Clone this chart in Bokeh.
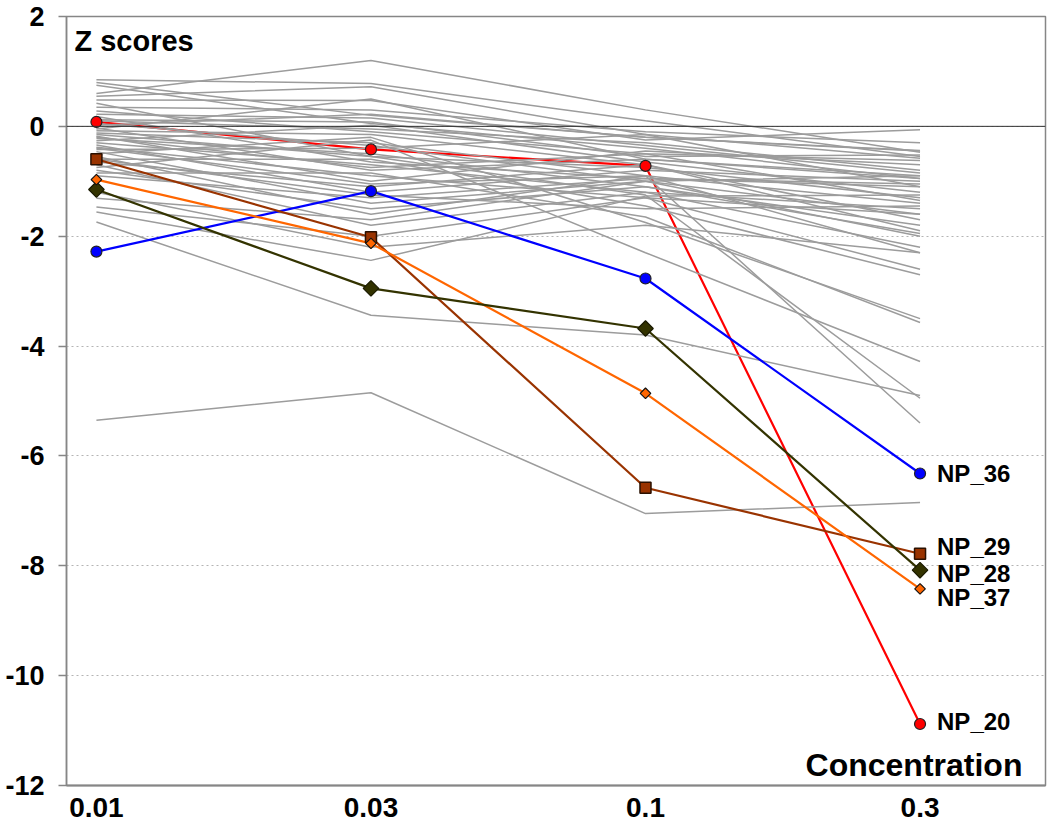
import math
from bokeh.plotting import figure
from bokeh.models import Range1d, Span, Label, FixedTicker
from bokeh.embed import file_html
from bokeh.resources import INLINE

# ---------------- data ----------------
concentrations = ["0.01", "0.03", "0.1", "0.3"]
xpos = [0, 1, 2, 3]
y_ticks = [-12, -10, -8, -6, -4, -2, 0, 2]

# background (grey) compounds: Z score at each concentration
grey_at_001 = [0.85, 0.80, 0.75, 0.60, 0.55, 0.48, 0.42, 0.35, 0.28, 0.22, 0.18, 0.12,
               0.05, 0.02, -0.03, -0.08, -0.12, -0.18, -0.22, -0.26, -0.30, -0.34, -0.38,
               -0.42, -0.46, -0.50, -0.55, -0.60, -0.65, -0.70, -0.75, -0.80, -0.85, -0.90,
               -0.15, -0.40, -1.31, -1.47, -1.56, -1.74, -1.20, -5.35, 0.10, -0.20, -0.05,
               -0.60]
grey_at_003 = [0.78, 0.20, 0.05, 1.20, 0.72, 0.47, -0.55, 0.30, -0.10, 0.15, -0.65, 0.08,
               -0.35, 0.22, -0.80, -0.15, -0.30, -1.00, -0.50, 0.02, -0.70, -1.20, -0.90,
               -0.40, -1.40, -0.20, -1.60, -0.60, -1.10, -1.80, -0.25, -1.50, -0.85, -1.30,
               -0.55, -1.05, -1.70, -2.00, -2.44, -3.44, -2.20, -4.85, -0.05, -0.75, 0.50,
               -1.25]
grey_at_01 = [0.10, -0.20, -0.40, 0.30, -0.15, -0.25, -0.75, -0.10, -0.50, -0.35, -0.95,
              -0.55, -1.00, -0.20, -0.60, -0.70, -0.90, -0.45, -1.10, -0.65, -1.20, -0.80,
              -1.30, -0.15, -1.00, -1.75, -0.90, -1.45, -0.70, -1.20, -2.30, -1.10, -1.65,
              -0.95, -1.25, -0.90, -1.00, -1.30, -1.27, -3.80, -1.80, -7.05, -0.30, -0.50,
              -0.60, -1.50]
grey_at_03 = [-0.55, -0.45, -0.95, -0.47, -1.10, -0.06, -1.30, -0.30, -0.62, -0.85, -1.05,
              -0.52, -1.60, -0.44, -0.90, -1.90, -2.30, -0.70, -1.80, -1.20, -1.50, -1.00,
              -2.60, -0.58, -2.00, -3.50, -1.40, -2.70, -1.70, -2.20, -4.28, -1.95, -3.57,
              -1.10, -4.95, -5.40, -0.90, -1.60, -1.25, -4.90, -2.30, -6.85, -0.80, -1.35,
              -0.95, -1.45]

# highlighted compounds
np20 = [0.08, -0.42, -0.72, -10.88]
np36 = [-2.28, -1.18, -2.77, -6.32]
np29 = [-0.60, -2.02, -6.58, -7.78]
np28 = [-1.15, -2.95, -3.68, -8.08]
np37 = [-0.97, -2.13, -4.86, -8.42]

# ---------------- figure ----------------
FONT = "Liberation Sans"

p = figure(frame_width=979, frame_height=769,
           x_range=Range1d(-0.109, 3.457), y_range=Range1d(-12, 2),
           output_backend="svg", toolbar_location=None,
           min_border_left=66, min_border_top=16, min_border_right=4, min_border_bottom=44,
           background_fill_color="white", border_fill_color="white")

p.outline_line_color = "#868686"
p.outline_line_width = 1.5

# axes
p.yaxis.ticker = FixedTicker(ticks=y_ticks)
p.yaxis.major_label_overrides = {t: str(t) for t in y_ticks}
p.yaxis.axis_line_color = "#868686"
p.yaxis.axis_line_width = 1.5
p.yaxis.major_tick_line_color = "#868686"
p.yaxis.major_tick_line_width = 1.5
p.yaxis.major_tick_out = 8
p.yaxis.major_tick_in = 0
p.yaxis.minor_tick_line_color = None
p.yaxis.major_label_text_font = FONT
p.yaxis.major_label_text_font_style = "bold"
p.yaxis.major_label_text_font_size = "27px"
p.yaxis.major_label_text_color = "black"
p.yaxis.major_label_standoff = 14

p.xaxis.ticker = FixedTicker(ticks=xpos)
p.xaxis.major_label_overrides = {x: c for x, c in zip(xpos, concentrations)}
p.xaxis.axis_line_color = "#868686"
p.xaxis.axis_line_width = 2
p.xaxis.major_tick_line_color = None
p.xaxis.minor_tick_line_color = None
p.xaxis.major_label_text_font = FONT
p.xaxis.major_label_text_font_style = "bold"
p.xaxis.major_label_text_font_size = "28px"
p.xaxis.major_label_text_color = "black"
p.xaxis.major_label_standoff = 6

p.xgrid.grid_line_color = None
p.ygrid.grid_line_color = "#b4b4b4"
p.ygrid.grid_line_dash = "2 3"
p.ygrid.grid_line_width = 1

p.add_layout(Span(location=0, dimension="width", line_color="#303030", line_width=1))

# red line underneath the grey ones
p.line(xpos, np20, line_color="#ff0000", line_width=2.2)

# grey background lines
xs = [xpos for _ in grey_at_001]
ys = [list(v) for v in zip(grey_at_001, grey_at_003, grey_at_01, grey_at_03)]
p.multi_line(xs=xs, ys=ys, line_color="#9c9c9c", line_width=1.5)

# highlighted lines
p.line(xpos, np36, line_color="#0000ff", line_width=2.2)
p.line(xpos, np29, line_color="#993300", line_width=2.2)
p.line(xpos, np37, line_color="#ff6600", line_width=2.2)
p.line(xpos, np28, line_color="#333300", line_width=2.2)

# markers
p.scatter(xpos, np20, marker="circle", size=11, fill_color="#ff0000", line_color="#222222", line_width=1.2)
p.scatter(xpos, np36, marker="circle", size=11, fill_color="#0000ff", line_color="#222222", line_width=1.2)
p.scatter(xpos, np29, marker="square", size=11, fill_color="#993300", line_color="#2a1000", line_width=1.5)
p.scatter(xpos, np28, marker="square", size=11, angle=math.pi / 4, fill_color="#333300", line_color="#1a1a00", line_width=1.2)
p.scatter(xpos, np37, marker="square", size=7.5, angle=math.pi / 4, fill_color="#ff6600", line_color="#111111", line_width=1.2)

# end labels
label_names = ["NP_36", "NP_29", "NP_28", "NP_37", "NP_20"]
label_series = [np36, np29, np28, np37, np20]
label_shift = [0, 7, -3, -9, 2]   # vertical nudges in px (up positive)
for name, ser, dy in zip(label_names, label_series, label_shift):
    p.add_layout(Label(x=xpos[-1], y=ser[-1], text=name, x_offset=17, y_offset=dy,
                       text_font=FONT, text_font_style="bold", text_font_size="24px",
                       text_color="black", text_align="left", text_baseline="middle"))

p.add_layout(Label(x=-0.08, y=1.56, text="Z scores", text_font=FONT, text_font_style="bold",
                   text_font_size="29px", text_color="black", text_align="left",
                   text_baseline="middle"))
p.add_layout(Label(x=3.373, y=-11.62, text="Concentration", text_font=FONT,
                   text_font_style="bold", text_font_size="32px", text_color="black",
                   text_align="right", text_baseline="middle"))

open("out.html", "w").write(file_html(p, INLINE))
